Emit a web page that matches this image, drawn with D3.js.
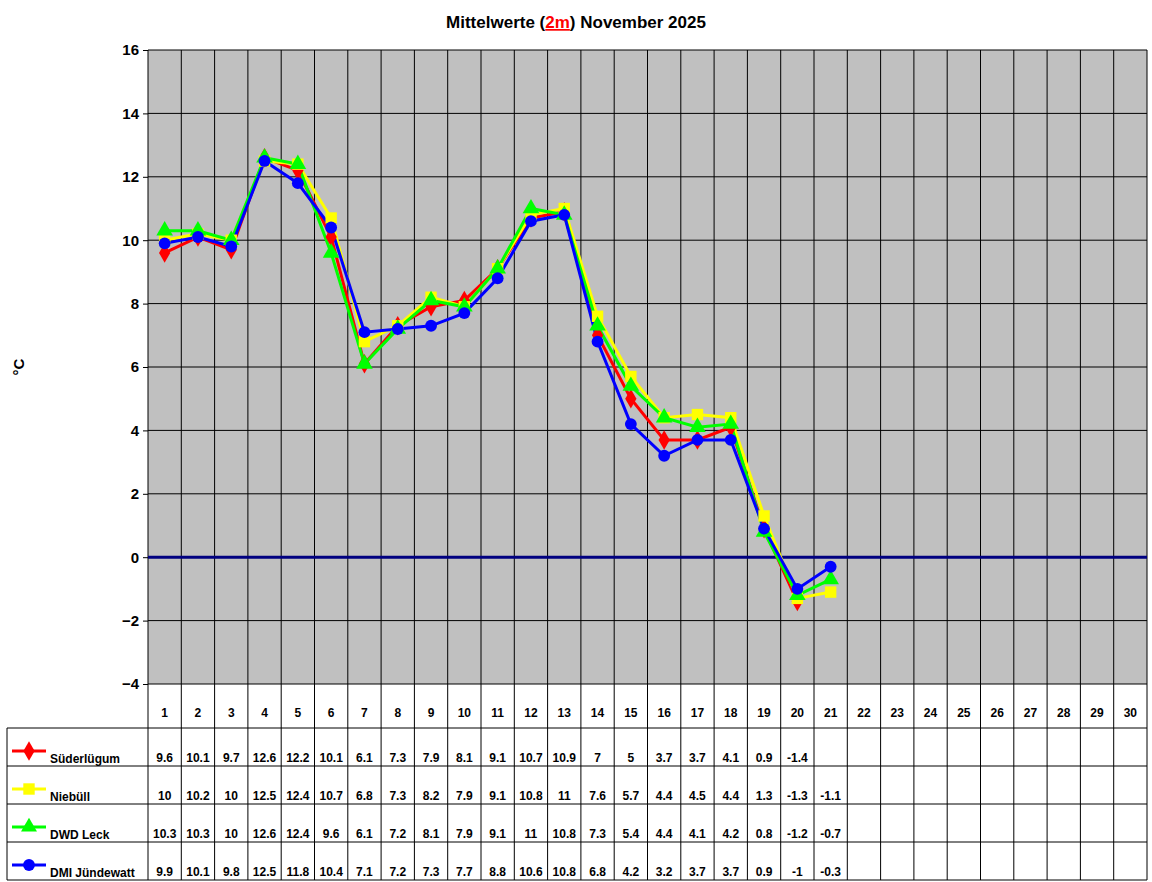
<!DOCTYPE html><html><head><meta charset="utf-8"><script src="https://cdn.jsdelivr.net/npm/d3@7"></script>
<style>body{margin:0;background:#fff}text{font-family:Arial,"Liberation Sans",sans-serif;font-weight:bold}</style></head><body><svg width="1152" height="882"></svg>
<script>
const days=d3.range(1,31);
const yTicks=[-4,-2,0,2,4,6,8,10,12,14,16];
const names=["Süderlügum","Niebüll","DWD Leck","DMI Jündewatt"];
const colors=["#ff0000","#ffff00","#00ff00","#0000ff"];
const symbols=[d3.symbolDiamond,d3.symbolSquare,d3.symbolTriangle,d3.symbolCircle];
const suederluegum=[9.6,10.1,9.7,12.6,12.2,10.1,6.1,7.3,7.9,8.1,9.1,10.7,10.9,7,5,3.7,3.7,4.1,0.9,-1.4];
const niebuell=[10,10.2,10,12.5,12.4,10.7,6.8,7.3,8.2,7.9,9.1,10.8,11,7.6,5.7,4.4,4.5,4.4,1.3,-1.3,-1.1];
const leck=[10.3,10.3,10,12.6,12.4,9.6,6.1,7.2,8.1,7.9,9.1,11,10.8,7.3,5.4,4.4,4.1,4.2,0.8,-1.2,-0.7];
const juendewatt=[9.9,10.1,9.8,12.5,11.8,10.4,7.1,7.2,7.3,7.7,8.8,10.6,10.8,6.8,4.2,3.2,3.7,3.7,0.9,-1,-0.3];
const series=[suederluegum,niebuell,leck,juendewatt];

const svg=d3.select("svg");
const L=148,R=1147,T=50,B=684;
const x=d3.scaleBand().domain(days).range([L,R]);
const y=d3.scaleLinear().domain([-4,16]).range([B,T]);
const cx=d=>x(d)+x.bandwidth()/2;
svg.append("rect").attr("x",L).attr("y",T).attr("width",R-L).attr("height",B-T).attr("fill","#c0c0c0");
yTicks.forEach(t=>{svg.append("line").attr("x1",L).attr("x2",R).attr("y1",y(t)).attr("y2",y(t)).attr("stroke","#000").attr("stroke-width",1);});
days.forEach(d=>{svg.append("line").attr("x1",x(d)+x.bandwidth()).attr("x2",x(d)+x.bandwidth()).attr("y1",T).attr("y2",880).attr("stroke","#000");});
svg.append("line").attr("x1",L).attr("x2",L).attr("y1",T).attr("y2",880).attr("stroke","#000");
svg.append("line").attr("x1",L).attr("x2",R).attr("y1",y(0)).attr("y2",y(0)).attr("stroke","#000080").attr("stroke-width",3);
const ax=svg.append("g").attr("transform",`translate(${L},0)`).call(d3.axisLeft(y).tickValues(yTicks).tickSize(5).tickPadding(4));
ax.selectAll("text").style("font-size","15px").style("font-weight","bold").style("font-family","Arial");
ax.select(".domain").remove();
svg.append("text").attr("transform","translate(24,367) rotate(-90)").attr("text-anchor","middle").style("font-size","15px").text("°C");
const title=svg.append("text").attr("x",576).attr("y",28).attr("text-anchor","middle").style("font-size","17px");
title.append("tspan").text("Mittelwerte (");
title.append("tspan").attr("fill","#ff0000").attr("text-decoration","underline").text("2m");
title.append("tspan").text(") November 2025");

const line=d3.line().x((v,i)=>cx(days[i])).y(v=>y(v));
series.forEach((s,k)=>{
  svg.append("path").attr("d",line(s)).attr("fill","none").attr("stroke",colors[k]).attr("stroke-width",3);
});
series.forEach((s,k)=>{
  const sz=k==3?110:k==1?130:k==2?120:110;
  s.forEach((v,i)=>svg.append("path").attr("d",d3.symbol(symbols[k],sz)()).attr("transform",`translate(${cx(days[i])},${y(v)})`).attr("fill",colors[k]));
});
// table
const rowsY=[728,766,804,842,880];
rowsY.forEach(yy=>svg.append("line").attr("x1",7).attr("x2",R).attr("y1",yy).attr("y2",yy).attr("stroke","#000"));
svg.append("line").attr("x1",7).attr("x2",7).attr("y1",728).attr("y2",880).attr("stroke","#000");
days.forEach(d=>svg.append("text").attr("x",cx(d)).attr("y",717).attr("text-anchor","middle").style("font-size","12px").text(d));
series.forEach((s,k)=>{
  const top=rowsY[k];
  svg.append("line").attr("x1",12).attr("x2",46).attr("y1",top+23).attr("y2",top+23).attr("stroke",colors[k]).attr("stroke-width",3);
  svg.append("path").attr("d",d3.symbol(symbols[k],k==1?130:110)()).attr("transform",`translate(29,${top+23})`).attr("fill",colors[k]);
  svg.append("text").attr("x",50).attr("y",top+35).style("font-size","12px").text(names[k]);
  s.forEach((v,i)=>svg.append("text").attr("x",cx(days[i])).attr("y",top+34).attr("text-anchor","middle").style("font-size","12px").text(v));
});
</script></body></html>
